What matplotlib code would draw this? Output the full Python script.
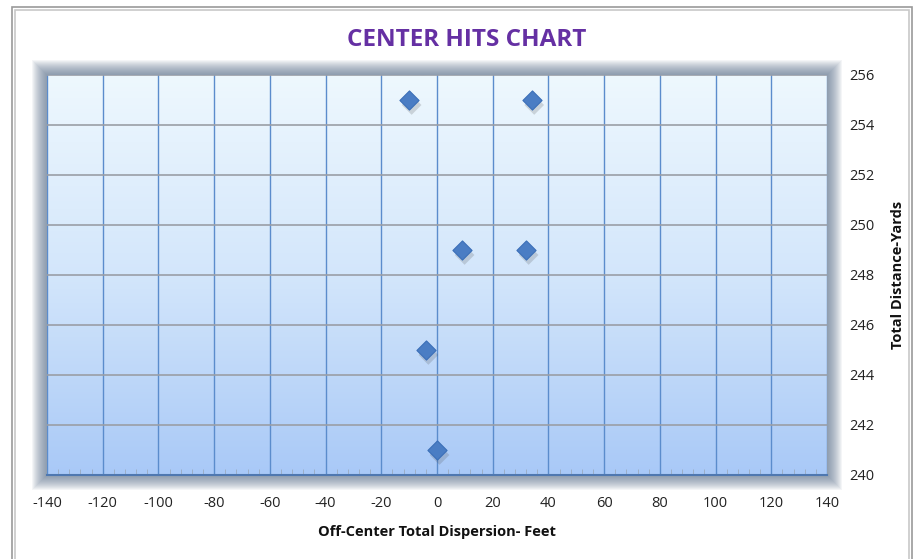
import numpy as np
import matplotlib.pyplot as plt
from matplotlib.patches import Rectangle
from matplotlib.colors import LinearSegmentedColormap

# data
dispersion_ft = [-10, 34, 9, 32, -4, 0]
distance_yd = [255, 255, 249, 249, 245, 241]
x_ticks = list(range(-140, 141, 20))
y_ticks = list(range(240, 257, 2))

plt.rcParams['font.family'] = ['Open Sans', 'DejaVu Sans']
plt.rcParams['axes.unicode_minus'] = False  # plain hyphen like the original

W, H = 918, 559
fig = plt.figure(figsize=(W / 100, H / 100), dpi=100)
fig.patch.set_facecolor('white')

# outer chart frame (double gray line)
for off, c in [(0, '#9a9a9a'), (3, '#c8c8c8')]:
    fig.add_artist(Rectangle(((12 + off) / W, -0.1), (900 - 2 * off) / W,
                             1.1 - (7 + off) / H, transform=fig.transFigure,
                             fill=False, edgecolor=c, lw=1.2))

left, right, top, bottom = 47, 827, 75, 475
ax = fig.add_axes([left / W, 1 - bottom / H, (right - left) / W, (bottom - top) / H])

# soft shadow around the plot area
for i in range(15, 0, -1):
    fig.add_artist(Rectangle(((left - i) / W, 1 - (bottom + i) / H),
                             (right - left + 2 * i) / W, (bottom - top + 2 * i) / H,
                             transform=fig.transFigure, facecolor='#5a6e8c',
                             edgecolor='none', alpha=0.065, zorder=0))

ax.set_xlim(-140, 140)
ax.set_ylim(240, 256)

# gradient fill: near white at top, light blue at bottom
grad = LinearSegmentedColormap.from_list('bg', ['#a9c9f7', '#d3e6fb', '#eef8fe'])
ax.imshow(np.linspace(0, 1, 256).reshape(-1, 1), cmap=grad, origin='lower',
          extent=[-140, 140, 240, 256], aspect='auto', zorder=0)

ax.set_xticks(x_ticks)
ax.set_yticks(y_ticks)
ax.set_xticks(range(-140, 141, 4), minor=True)
ax.grid(True, axis='x', color='#5b8ccc', lw=1.0, zorder=1)
ax.grid(True, axis='y', color='#9a9ea6', lw=1.2, zorder=1)

ax.yaxis.tick_right()
ax.yaxis.set_label_position('right')
ax.tick_params(axis='both', labelsize=10.5, colors='#222222', length=0)
ax.tick_params(axis='x', which='major', pad=15)
ax.tick_params(axis='x', which='minor', length=4, direction='in', color='#9aaac0')
ax.tick_params(axis='y', pad=16)

for s in ['top', 'left', 'right']:
    ax.spines[s].set_visible(False)
ax.spines['bottom'].set_color('#4f78b0')
ax.spines['bottom'].set_linewidth(1.5)

# marker shadow, then markers
ax.scatter([x + 0.9 for x in dispersion_ft], [y - 0.2 for y in distance_yd],
           marker='D', s=100, color='#4a4a4a', alpha=0.2, edgecolors='none',
           zorder=3, clip_on=False)
ax.scatter(dispersion_ft, distance_yd, marker='D', s=95, color='#4a7dc4',
           edgecolors='#3b6fb8', linewidths=0.8, zorder=4, clip_on=False)

ax.set_xlabel('Off-Center Total Dispersion- Feet', fontsize=10.5,
              fontweight='bold', labelpad=10, color='#111111')
ax.set_ylabel('Total Distance-Yards', fontsize=10.5, fontweight='bold',
              labelpad=12, color='#111111')

fig.text(467 / W, 1 - 40 / H, 'CENTER HITS CHART', ha='center', va='center',
         fontsize=17.5, fontweight='bold', color='#6530a3')

fig.savefig('out.png', dpi=100)
